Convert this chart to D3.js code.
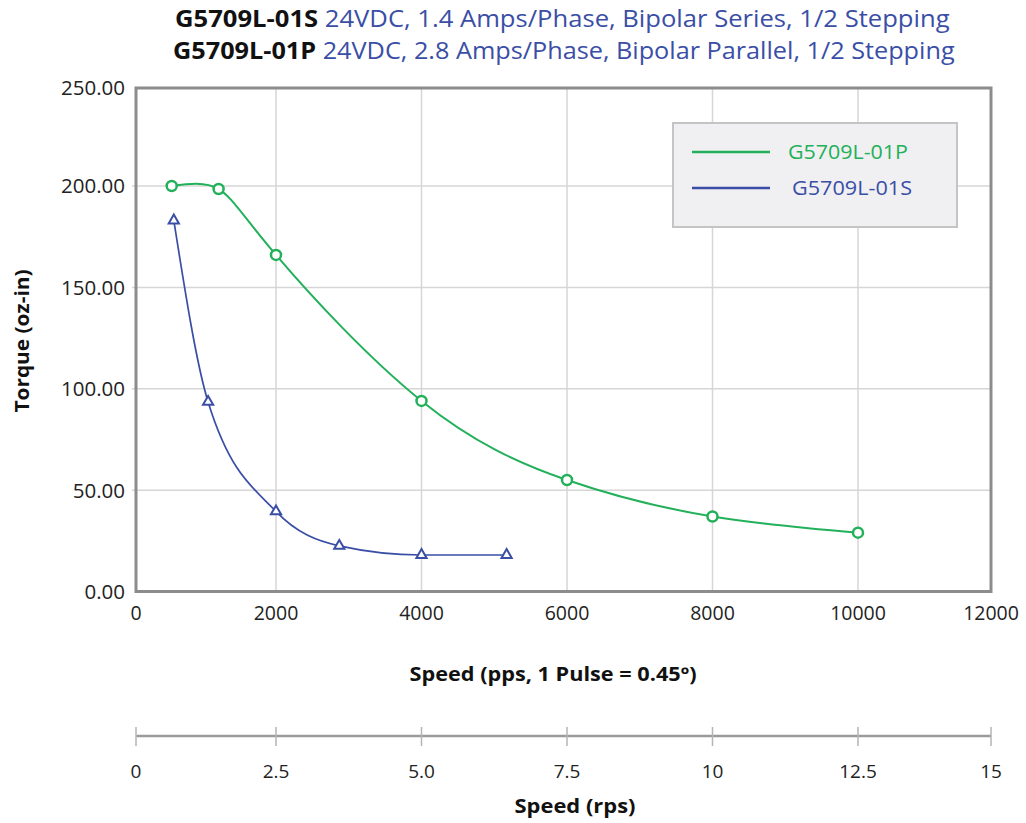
<html>
<head>
  <script src="https://unpkg.com/d3@7/dist/d3.min.js"></script>
  <style>
    body { margin: 0; background: #fff; }
    text { font-family: 'Open Sans', sans-serif; }
  </style>
</head>
<body>
  <svg id="container" width="1026" height="823"></svg>
</body>

<script>
    // values
    const speedP = [510, 1180, 2000, 4000, 6000, 8000, 10000]
    const torqueP = [200, 198.5, 166, 94, 55, 37, 29]
    const speedS = [540, 1030, 2000, 2870, 4000, 5170]
    const torqueS = [183, 93.5, 39.5, 22.5, 18, 18]

    const ppsTicks = [0, 2000, 4000, 6000, 8000, 10000, 12000]
    const torqueTicks = [0, 50, 100, 150, 200, 250]
    const rpsTicks = [0, 2.5, 5, 7.5, 10, 12.5, 15]
    const rpsLabels = ['0', '2.5', '5.0', '7.5', '10', '12.5', '15']
    const pulsesPerRev = 800

    const titleLines = [
      ['G5709L-01S', '24VDC, 1.4 Amps/Phase, Bipolar Series, 1/2 Stepping'],
      ['G5709L-01P', '24VDC, 2.8 Amps/Phase, Bipolar Parallel, 1/2 Stepping']
    ]
    const legendNames = ['G5709L-01P', 'G5709L-01S']

    const green = '#22b05a'
    const blue = '#3a4ea6'

    const svg = d3.select('#container');

    const plotLeft = 136, plotRight = 991, plotTop = 88, plotBottom = 591.5;

    // the reference axes are not quite evenly spaced at their ends
    const xScale = d3.scaleLinear()
      .domain([0, 2000, 10000, 12000])
      .range([plotLeft, 276, 858, plotRight]);

    const yScale = d3.scaleLinear()
      .domain([0, 200, 250])
      .range([plotBottom, 186, plotTop]);

    // title, squeezed to the width of the original condensed face
    titleLines.forEach((line, i) => {
      const t = svg.append('text')
        .attr('x', 0)
        .attr('y', 0)
        .style('font-size', '23px');
      t.append('tspan').text(line[0]).style('font-weight', 'bold').attr('fill', '#111');
      t.append('tspan').text(' ' + line[1]).attr('fill', blue);
      const w = t.node().getComputedTextLength();
      const target = i === 0 ? 775 : 782;
      const x0 = i === 0 ? 175 : 173;
      t.attr('transform', `translate(${x0}, ${i === 0 ? 27 : 59}) scale(${target / w}, 1)`);
    });

    // grid
    svg.append('g')
      .selectAll('line')
      .data(ppsTicks.slice(1, -1))
      .enter()
      .append('line')
      .attr('x1', d => xScale(d)).attr('x2', d => xScale(d))
      .attr('y1', plotTop).attr('y2', plotBottom)
      .attr('stroke', '#d6d6d6').attr('stroke-width', 1.5);

    svg.append('g')
      .selectAll('line')
      .data(torqueTicks.slice(1, -1))
      .enter()
      .append('line')
      .attr('x1', plotLeft - 4).attr('x2', plotRight)
      .attr('y1', d => yScale(d)).attr('y2', d => yScale(d))
      .attr('stroke', '#d6d6d6').attr('stroke-width', 1.5);

    // plot frame
    svg.append('rect')
      .attr('x', plotLeft).attr('y', plotTop)
      .attr('width', plotRight - plotLeft).attr('height', plotBottom - plotTop)
      .attr('fill', 'none')
      .attr('stroke', '#8c8c8c').attr('stroke-width', 3);

    // y tick labels
    svg.append('g')
      .selectAll('text')
      .data(torqueTicks)
      .enter()
      .append('text')
      .attr('x', plotLeft - 11)
      .attr('y', d => yScale(d))
      .attr('dy', '0.36em')
      .attr('text-anchor', 'end')
      .attr('fill', '#222')
      .style('font-size', '20.5px')
      .text(d => d3.format('.2f')(d));

    // x tick labels
    svg.append('g')
      .selectAll('text')
      .data(ppsTicks)
      .enter()
      .append('text')
      .attr('x', d => xScale(d))
      .attr('y', 620)
      .attr('text-anchor', 'middle')
      .attr('fill', '#222')
      .style('font-size', '19.5px')
      .text(d => d);

    svg.append('text')
      .attr('transform', `translate(29, 341) rotate(-90)`)
      .attr('text-anchor', 'middle')
      .attr('fill', '#111')
      .attr('textLength', 143)
      .attr('lengthAdjust', 'spacingAndGlyphs')
      .style('font-size', '19px')
      .style('font-weight', 'bold')
      .text('Torque (oz-in)');

    svg.append('text')
      .attr('x', 553).attr('y', 681)
      .attr('text-anchor', 'middle')
      .attr('fill', '#111')
      .attr('textLength', 287)
      .attr('lengthAdjust', 'spacingAndGlyphs')
      .style('font-size', '19px')
      .style('font-weight', 'bold')
      .text('Speed (pps, 1 Pulse = 0.45º)');

    // second axis in rps
    const rpsAxis = svg.append('g');
    rpsAxis.append('line')
      .attr('x1', xScale(0)).attr('x2', xScale(15 * pulsesPerRev))
      .attr('y1', 736).attr('y2', 736)
      .attr('stroke', '#9a9a9a').attr('stroke-width', 2.5);
    rpsAxis.selectAll('.tick')
      .data(rpsTicks)
      .enter()
      .append('line')
      .attr('x1', d => xScale(d * pulsesPerRev)).attr('x2', d => xScale(d * pulsesPerRev))
      .attr('y1', 727).attr('y2', 746)
      .attr('stroke', '#b5b5b5').attr('stroke-width', 1.5);
    rpsAxis.selectAll('text')
      .data(rpsTicks)
      .enter()
      .append('text')
      .attr('x', d => xScale(d * pulsesPerRev))
      .attr('y', 778)
      .attr('text-anchor', 'middle')
      .attr('fill', '#222')
      .style('font-size', '19px')
      .text((d, i) => rpsLabels[i]);

    svg.append('text')
      .attr('x', 575).attr('y', 813)
      .attr('text-anchor', 'middle')
      .attr('fill', '#111')
      .attr('textLength', 121)
      .attr('lengthAdjust', 'spacingAndGlyphs')
      .style('font-size', '19px')
      .style('font-weight', 'bold')
      .text('Speed (rps)');

    // series
    const pointsP = speedP.map((s, i) => [s, torqueP[i]]);
    const pointsS = speedS.map((s, i) => [s, torqueS[i]]);

    const lineP = d3.line()
      .x(d => xScale(d[0]))
      .y(d => yScale(d[1]))
      .curve(d3.curveNatural);

    const lineS = d3.line()
      .x(d => xScale(d[0]))
      .y(d => yScale(d[1]))
      .curve(d3.curveMonotoneX);

    svg.append('path')
      .datum(pointsP)
      .attr('d', lineP)
      .attr('fill', 'none')
      .attr('stroke', green)
      .attr('stroke-width', 2);

    svg.append('path')
      .datum(pointsS)
      .attr('d', lineS)
      .attr('fill', 'none')
      .attr('stroke', blue)
      .attr('stroke-width', 1.7);

    svg.append('g')
      .selectAll('circle')
      .data(pointsP)
      .enter()
      .append('circle')
      .attr('cx', d => xScale(d[0]))
      .attr('cy', d => yScale(d[1]))
      .attr('r', 5)
      .attr('fill', '#fff')
      .attr('stroke', green)
      .attr('stroke-width', 2.5);

    svg.append('g')
      .selectAll('path')
      .data(pointsS)
      .enter()
      .append('path')
      .attr('transform', d => `translate(${xScale(d[0])}, ${yScale(d[1])})`)
      .attr('d', d3.symbol().type(d3.symbolTriangle).size(45))
      .attr('fill', '#fff')
      .attr('stroke', blue)
      .attr('stroke-width', 2);

    // legend
    const legend = svg.append('g');
    legend.append('rect')
      .attr('x', 673).attr('y', 123)
      .attr('width', 284).attr('height', 104)
      .attr('fill', '#f0f0f2')
      .attr('stroke', '#c4c4c4').attr('stroke-width', 2);

    const legendColors = [green, blue];
    legendNames.forEach((name, i) => {
      const ly = 152 + i * 36;
      legend.append('line')
        .attr('x1', 692).attr('x2', 770)
        .attr('y1', ly).attr('y2', ly)
        .attr('stroke', legendColors[i]).attr('stroke-width', 2.5);
      legend.append('text')
        .attr('x', 788 + i * 4).attr('y', ly)
        .attr('dy', '0.36em')
        .attr('fill', legendColors[i])
        .attr('textLength', 120)
        .attr('lengthAdjust', 'spacingAndGlyphs')
        .style('font-size', '20px')
        .text(name);
    });
</script>

</html>
